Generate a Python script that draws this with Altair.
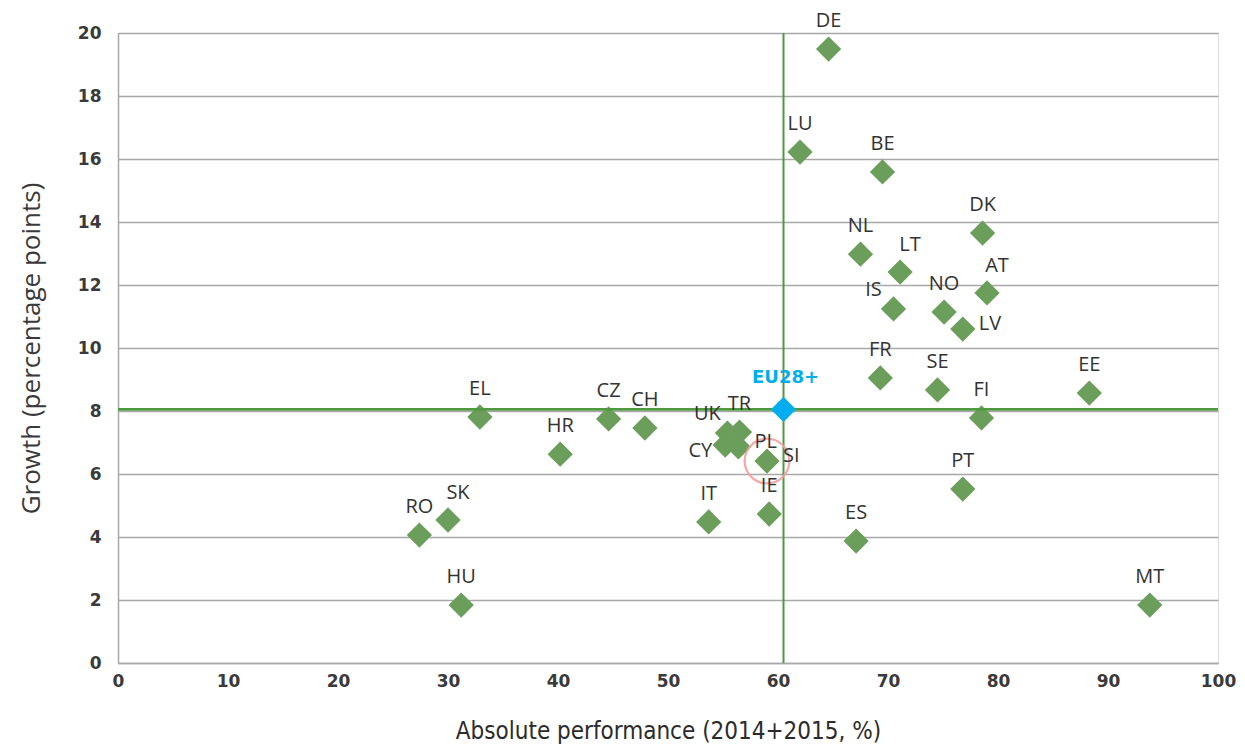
import altair as alt
import pandas as pd

countries = ["DE", "LU", "BE", "DK", "NL", "LT", "AT", "IS", "NO", "LV",
             "FR", "SE", "EE", "FI", "EL", "CZ", "CH", "HR", "UK", "TR",
             "CY", "PL", "SI", "IT", "IE", "ES", "PT", "RO", "SK", "HU", "MT"]
performance = [64.6, 62.0, 69.5, 78.6, 67.5, 71.1, 79.0, 70.5, 75.1, 76.8,
               69.3, 74.5, 88.3, 78.5, 32.9, 44.6, 47.9, 40.2, 55.4, 56.5,
               55.2, 56.4, 59.0, 53.7, 59.2, 67.1, 76.8, 27.4, 30.0, 31.2, 93.8]
growth = [19.49, 16.22, 15.59, 13.65, 12.98, 12.41, 11.75, 11.24, 11.14, 10.60,
          9.05, 8.67, 8.57, 7.78, 7.81, 7.75, 7.46, 6.63, 7.30, 7.33,
          6.92, 6.86, 6.41, 4.48, 4.73, 3.87, 5.52, 4.06, 4.54, 1.84, 1.84]
label_side = ["top", "top", "top", "top", "top", "topright", "topright", "topleft", "top", "right",
              "top", "top", "top", "top", "top", "top", "top", "top", "topleft", "top",
              "left", "right", "right", "top", "top", "top", "top", "top", "topright", "top", "top"]

eu_label = ["EU28+"]
eu_performance = [60.5]
eu_growth = [8.05]
highlighted = ["SI"]

x_ticks = [0, 10, 20, 30, 40, 50, 60, 70, 80, 90, 100]
y_ticks = [0, 2, 4, 6, 8, 10, 12, 14, 16, 18, 20]

df = pd.DataFrame({"country": countries, "perf": performance,
                   "growth": growth, "side": label_side})
eu = pd.DataFrame({"country": eu_label, "perf": eu_performance, "growth": eu_growth})

xs = alt.Scale(domain=[0, 100], nice=False, zero=False)
ys = alt.Scale(domain=[0, 20], nice=False, zero=False)

GREEN = "#6B9E5B"
LINE_GREEN = "#4F9A3F"
BLUE = "#00AEEF"
GRID = "#A8A8A8"
LABEL_FONT = "Open Sans"
COND_FONT = "Liberation Sans Narrow, DejaVu Sans Condensed, Roboto, sans-serif"

x_axis = alt.Axis(values=x_ticks, grid=False, ticks=False, domainColor=GRID, domainWidth=1.5,
                  labelFont="DejaVu Sans", labelFontWeight="bold", labelFontSize=17,
                  labelColor="#3a3a3a", labelPadding=10, labelFlush=False,
                  title="Absolute performance (2014+2015, %)",
                  titleFont=COND_FONT, titleFontSize=24, titleFontWeight="normal",
                  titleColor="#2b2b2b", titlePadding=30)
y_axis = alt.Axis(values=y_ticks, grid=True, gridColor=GRID, gridWidth=1.5, ticks=False,
                  domainColor=GRID, domainWidth=1.5,
                  labelFont="DejaVu Sans", labelFontWeight="bold", labelFontSize=17,
                  labelColor="#3a3a3a", labelPadding=17,
                  title="Growth (percentage points)",
                  titleFont=LABEL_FONT, titleFontSize=26, titleFontWeight="normal",
                  titleColor="#3a3a3a", titlePadding=33)

X = alt.X("perf:Q", scale=xs, axis=x_axis)
Y = alt.Y("growth:Q", scale=ys, axis=y_axis)

points = alt.Chart(df).mark_point(shape="diamond", filled=True, size=640, color=GREEN,
                                  opacity=1).encode(x=X, y=Y)

hline = alt.Chart(eu).mark_rule(color=LINE_GREEN, strokeWidth=2.8).encode(y=Y)
vline = alt.Chart(eu).mark_rule(color=LINE_GREEN, strokeWidth=2).encode(x=X)

eu_point = alt.Chart(eu).mark_point(shape="diamond", filled=True, size=640, color=BLUE,
                                    opacity=1).encode(x=X, y=Y)
eu_text = alt.Chart(eu).mark_text(font="DejaVu Sans", fontWeight="bold", fontSize=18,
                                  color=BLUE, dy=-31, dx=2).encode(x=X, y=Y, text="country:N")

circle = alt.Chart(df).transform_filter(
    alt.FieldOneOfPredicate(field="country", oneOf=highlighted)
).mark_point(shape="circle", filled=False, size=2000, stroke="#F2A0A0", strokeWidth=2.2,
             opacity=0.9).encode(x=X, y=Y)

offsets = {
    "top": dict(dx=0, dy=-28, align="center"),
    "topleft": dict(dx=-20, dy=-19, align="center"),
    "topright": dict(dx=10, dy=-27, align="center"),
    "right": dict(dx=16, dy=-5, align="left"),
    "left": dict(dx=-13, dy=6, align="right"),
}

text_layers = []
for side, opts in offsets.items():
    text_layers.append(
        alt.Chart(df).transform_filter(alt.datum.side == side).mark_text(
            font=LABEL_FONT, fontSize=20, color="#333333", baseline="middle", **opts
        ).encode(x=X, y=Y, text="country:N")
    )

chart = alt.layer(points, hline, vline, circle, eu_point, eu_text, *text_layers).properties(
    width=1100, height=630,
    autosize=alt.AutoSizeParams(type="none"),
    padding={"left": 110, "top": 25, "right": 19, "bottom": 84},
).configure_view(strokeWidth=0, stroke="transparent").configure(background="white")

chart.save("out.html", embed_options={"renderer": "svg", "actions": False})
